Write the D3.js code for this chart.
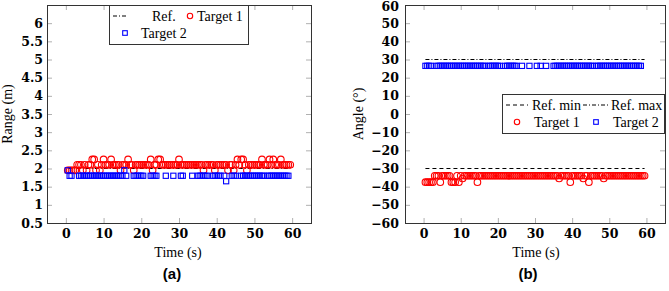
<html>
<head>
<meta charset="utf-8">
<script src="https://d3js.org/d3.v7.min.js"></script>
<style>
  body { margin: 0; background: #fff; }
  .tick text { font-family: "DejaVu Serif", serif; font-weight: bold; font-size: 12.5px; fill: #000; }
  .tick line { stroke: #b0b0b0; }
  text.lbl { font-family: "Liberation Serif", serif; font-size: 14px; fill: #000; }
  text.cap { font-family: "Liberation Sans", sans-serif; font-weight: bold; font-size: 15px; fill: #000; }
</style>
</head>
<body>
<svg id="chart" width="669" height="291"></svg>
<script>
// sample times (s), one sample every 0.5 s
const time = [
  0.5, 1, 1.5, 2, 2.5, 3, 3.5, 4, 4.5, 5,
  5.5, 6, 6.5, 7, 7.5, 8, 8.5, 9, 9.5, 10,
  10.5, 11, 11.5, 12, 12.5, 13, 13.5, 14, 14.5, 15,
  15.5, 16, 16.5, 17, 17.5, 18, 18.5, 19, 19.5, 20,
  20.5, 21, 21.5, 22, 22.5, 23, 23.5, 24, 24.5, 25,
  25.5, 26, 26.5, 27, 27.5, 28, 28.5, 29, 29.5, 30,
  30.5, 31, 31.5, 32, 32.5, 33, 33.5, 34, 34.5, 35,
  35.5, 36, 36.5, 37, 37.5, 38, 38.5, 39, 39.5, 40,
  40.5, 41, 41.5, 42, 42.5, 43, 43.5, 44, 44.5, 45,
  45.5, 46, 46.5, 47, 47.5, 48, 48.5, 49, 49.5, 50,
  50.5, 51, 51.5, 52, 52.5, 53, 53.5, 54, 54.5, 55,
  55.5, 56, 56.5, 57, 57.5, 58, 58.5, 59, 59.5
];

// (a) range of each target in metres, null = not detected
const rangeT1 = [
  1.95, 1.95, 1.95, 1.95, 1.95, 2.1, 2.1, 2.1, 1.95, 2.1,
  1.95, 2.1, 2.1, 2.25, 2.25, 1.95, 2.1, 1.95, 2.1, 2.25,
  2.1, 2.1, 2.1, 2.25, 2.1, 2.1, 2.1, 2.1, 1.95, 2.1,
  2.1, 2.1, 2.25, 2.1, 2.1, 1.95, 2.1, 2.1, 2.1, 2.1,
  2.1, 2.1, 2.1, 2.1, 2.25, 1.95, 2.1, 2.1, 2.25, 2.25,
  2.1, 2.1, 2.1, 2.1, 2.1, 2.1, 2.1, 2.1, 2.1, 2.25,
  2.1, 2.1, 2.1, 2.1, 2.1, 2.1, 2.1, 2.1, 2.1, 2.1,
  2.1, 2.1, 1.95, 2.1, 2.1, 2.1, 2.1, 2.1, 1.95, 2.1,
  2.1, 2.1, 2.1, 2.1, 2.1, 1.95, 2.1, 2.1, 1.95, 2.1,
  2.25, 2.1, 2.25, 2.25, 2.1, 1.95, 2.1, 2.1, 2.1, 2.1,
  2.1, 2.1, 2.1, 2.25, 2.1, 2.1, 2.1, 2.25, 2.1, 2.25,
  2.1, 2.1, 2.1, 2.25, 2.1, 2.1, 2.1, 2.1, 2.1
];
const rangeT2 = [
  1.95, 1.8, 1.8, null, null, null, 1.8, 1.8, 1.8, 1.8,
  1.8, 1.8, 1.8, 1.8, 1.8, 1.8, 1.8, 1.8, 1.8, 1.8,
  1.8, 1.8, 1.8, 1.8, 1.8, 1.8, 1.8, 1.8, 1.8, 1.8,
  1.95, 1.8, null, null, null, 1.8, 1.8, 1.8, 1.8, 1.8,
  1.8, null, null, null, 1.8, 1.8, 1.8, 1.8, null, null,
  null, null, 1.8, null, null, null, 1.8, null, null, null,
  1.8, 1.8, null, null, null, null, 1.8, null, null, 1.8,
  1.8, 1.8, 1.8, 1.8, 1.8, null, null, 1.8, 1.8, 1.8,
  1.8, 1.8, null, 1.8, 1.65, null, null, 1.8, 1.8, 1.8,
  null, null, 1.8, 1.8, 1.8, 1.8, 1.8, 1.8, 1.8, 1.8,
  1.8, 1.8, 1.8, 1.8, 1.8, null, 1.8, 1.8, 1.8, 1.8,
  1.8, 1.8, 1.8, 1.8, 1.8, 1.8, 1.8, 1.8, null
];
const rangeRef = 2;

// (b) angle of each target in degrees
const angleT1 = [
  -37.5, -37.5, -37.5, -37.5, -37.5, -34, -34, -34, -37.5, -34,
  -34, -34, -34, -34, -37.5, -37.5, -37.5, -34, -37.5, -34,
  -35.5, -34, -34, -34, -34, -34, -34, -34, -37.5, -34,
  -34, -34, -34, -34, -34, -34, -34, -34, -34, -34,
  -34, -34, -34, -34, -34, -34, -34, -34, -34, -34,
  -34, -34, -34, -34, -34, -34, -34, -34, -34, -34,
  -34, -34, -34, -34, -34, -34, -34, -34, -34, -34,
  -34, -34, -35.5, -34, -34, -34, -34, -34, -37.5, -34,
  -34, -34, -34, -34, -34, -35.5, -34, -34, -37.5, -34,
  -34, -34, -34, -34, -34, -34, -35.5, -34, -34, -34,
  -34, -34, -34, -34, -34, -34, -34, -34, -34, -34,
  -34, -34, -34, -34, -34, -34, -34, -34, -34
];
const angleT2 = [
  26.5, 26.5, 26.5, 26.5, null, null, 26.5, 26.5, 26.5, 26.5,
  26.5, 26.5, 26.5, 26.5, 26.5, 26.5, 26.5, 26.5, 26.5, 26.5,
  26.5, 26.5, 26.5, 26.5, 26.5, 26.5, 26.5, 26.5, 26.5, 26.5,
  26.5, 26.5, 26.5, null, 26.5, 26.5, 26.5, 26.5, 26.5, 26.5,
  26.5, null, null, 26.5, 26.5, 26.5, 26.5, 26.5, 26.5, 26.5,
  null, null, 26.5, null, null, null, 26.5, null, null, null,
  26.5, null, 26.5, null, null, 26.5, null, null, null, 26.5,
  26.5, 26.5, 26.5, 26.5, 26.5, 26.5, 26.5, 26.5, 26.5, 26.5,
  26.5, 26.5, 26.5, 26.5, 26.5, 26.5, 26.5, 26.5, 26.5, 26.5,
  26.5, null, 26.5, 26.5, 26.5, 26.5, 26.5, 26.5, 26.5, 26.5,
  26.5, 26.5, 26.5, 26.5, 26.5, 26.5, 26.5, 26.5, 26.5, 26.5,
  26.5, 26.5, 26.5, 26.5, 26.5, 26.5, 26.5, null, null
];
const angleRefMin = -30;
const angleRefMax = 30;
const refSpan = [0.5, 59.5];

const xTicks = [0, 10, 20, 30, 40, 50, 60];
const rangeTicks = [0.5, 1, 1.5, 2, 2.5, 3, 3.5, 4, 4.5, 5, 5.5, 6];
const rangeTickLabels = ["0.5", "1", "1.5", "2", "2.5", "3", "3.5", "4", "4.5", "5", "5.5", "6"];
const angleTicks = [-60, -50, -40, -30, -20, -10, 0, 10, 20, 30, 40, 50, 60];

const svg = d3.select("#chart");
const RED = "#ff0000", BLUE = "#0000ff";
const DASH = "4,3", DASHDOT = "4,2,1,2";

function panel(x, y, yTicks, yFmt, yPad) {
  const [x0, x1] = x.range();
  const [y0, y1] = y.range();
  const g = svg.append("g");

  // inward ticks on every side, labels only left/bottom
  g.append("g").attr("transform", `translate(0,${y0})`)
    .call(d3.axisBottom(x).tickValues(xTicks).tickSizeInner(-5).tickSizeOuter(0).tickPadding(6));
  g.append("g").attr("transform", `translate(0,${y1})`)
    .call(d3.axisTop(x).tickValues(xTicks).tickSizeInner(-5).tickSizeOuter(0).tickFormat(""));
  g.append("g").attr("class", "yaxis").attr("transform", `translate(${x0},0)`)
    .call(d3.axisLeft(y).tickValues(yTicks).tickFormat(yFmt).tickSizeInner(-5).tickSizeOuter(0).tickPadding(yPad));
  g.append("g").attr("transform", `translate(${x1},0)`)
    .call(d3.axisRight(y).tickValues(yTicks).tickSizeInner(-5).tickSizeOuter(0).tickFormat(""));
  g.selectAll(".domain").remove();
  g.selectAll("g").attr("font-family", null).attr("font-size", null);

  g.append("rect")
    .attr("x", x0 + 0.5).attr("y", y1 + 0.5)
    .attr("width", x1 - x0).attr("height", y0 - y1)
    .attr("fill", "none").attr("stroke", "#333").attr("stroke-width", 1);
  return g;
}

function refLine(g, x, y, v, dash) {
  g.append("line")
    .attr("x1", x(refSpan[0])).attr("x2", x(refSpan[1]))
    .attr("y1", y(v)).attr("y2", y(v))
    .attr("stroke", "#000").attr("stroke-width", 1).attr("stroke-dasharray", dash);
}

function circles(g, x, y, vals) {
  g.append("g").selectAll("circle")
    .data(time.map((t, i) => [t, vals[i]]).filter((d) => d[1] !== null))
    .join("circle")
    .attr("cx", (d) => x(d[0])).attr("cy", (d) => y(d[1])).attr("r", 3.3)
    .attr("fill", "none").attr("stroke", RED).attr("stroke-width", 1.1);
}

function squares(g, x, y, vals) {
  g.append("g").selectAll("rect")
    .data(time.map((t, i) => [t, vals[i]]).filter((d) => d[1] !== null))
    .join("rect")
    .attr("x", (d) => x(d[0]) - 2.6).attr("y", (d) => y(d[1]) - 2.6)
    .attr("width", 5.2).attr("height", 5.2)
    .attr("fill", "none").attr("stroke", BLUE).attr("stroke-width", 1.1);
}

function legendBox(x, y, w, h) {
  svg.append("rect").attr("x", x + 0.5).attr("y", y + 0.5).attr("width", w).attr("height", h)
    .attr("fill", "#fff").attr("stroke", "#333");
}
function legLine(x1, x2, y, dash) {
  svg.append("line").attr("x1", x1).attr("x2", x2).attr("y1", y).attr("y2", y)
    .attr("stroke", "#000").attr("stroke-dasharray", dash);
}
function legText(x, y, s) {
  svg.append("text").attr("class", "lbl").attr("x", x).attr("y", y).text(s);
}
function legCircle(x, y) {
  svg.append("circle").attr("cx", x).attr("cy", y).attr("r", 2.7)
    .attr("fill", "none").attr("stroke", RED).attr("stroke-width", 1.1);
}
function legSquare(x, y) {
  svg.append("rect").attr("x", x - 2.3).attr("y", y - 2.3).attr("width", 4.6).attr("height", 4.6)
    .attr("fill", "none").attr("stroke", BLUE).attr("stroke-width", 1.1);
}

// ---- (a) range ----
const xA = d3.scaleLinear().domain([-5, 65]).range([47, 311]);
const yA = d3.scaleLinear().domain([0.5, 6.5]).range([223, 5]);
const gA = panel(xA, yA, rangeTicks, (d, i) => rangeTickLabels[i], 4);
refLine(gA, xA, yA, rangeRef, DASHDOT);
circles(gA, xA, yA, rangeT1);
squares(gA, xA, yA, rangeT2);

svg.append("text").attr("class", "lbl").attr("text-anchor", "middle")
  .attr("transform", "translate(12,114) rotate(-90)").text("Range (m)");
svg.append("text").attr("class", "lbl").attr("text-anchor", "middle")
  .attr("x", 178).attr("y", 257).text("Time (s)");
svg.append("text").attr("class", "cap").attr("text-anchor", "middle")
  .attr("x", 172).attr("y", 279).text("(a)");

legendBox(109, 5, 139, 39);
legLine(113, 128, 16, DASHDOT);
legText(152, 20.5, "Ref.");
legCircle(190, 16);
legText(197, 20.5, "Target 1");
legSquare(125, 33);
legText(141, 37.5, "Target 2");

// ---- (b) angle ----
const xB = d3.scaleLinear().domain([-5, 65]).range([405, 665]);
const yB = d3.scaleLinear().domain([-60, 60]).range([223, 5]);
const gB = panel(xB, yB, angleTicks, (d) => String(d).replace("-", "\u2212"), 6);
// top label sits right at the page edge, nudge it down a touch
gB.selectAll(".yaxis .tick text").filter((d) => d === 60).attr("dy", "0.45em");
refLine(gB, xB, yB, angleRefMin, DASH);
refLine(gB, xB, yB, angleRefMax, DASHDOT);
circles(gB, xB, yB, angleT1);
squares(gB, xB, yB, angleT2);

svg.append("text").attr("class", "lbl").attr("text-anchor", "middle")
  .attr("transform", "translate(363,114) rotate(-90)").text("Angle (\u00b0)");
svg.append("text").attr("class", "lbl").attr("text-anchor", "middle")
  .attr("x", 536).attr("y", 257).text("Time (s)");
svg.append("text").attr("class", "cap").attr("text-anchor", "middle")
  .attr("x", 528).attr("y", 279).text("(b)");

legendBox(502, 94, 162, 39);
legLine(506, 528, 105, DASH);
legText(532, 109.5, "Ref. min");
legLine(583, 608, 105, DASHDOT);
legText(611, 109.5, "Ref. max");
legCircle(517, 122);
legText(534, 126.5, "Target 1");
legSquare(596, 122);
legText(613, 126.5, "Target 2");
</script>
</body>
</html>
